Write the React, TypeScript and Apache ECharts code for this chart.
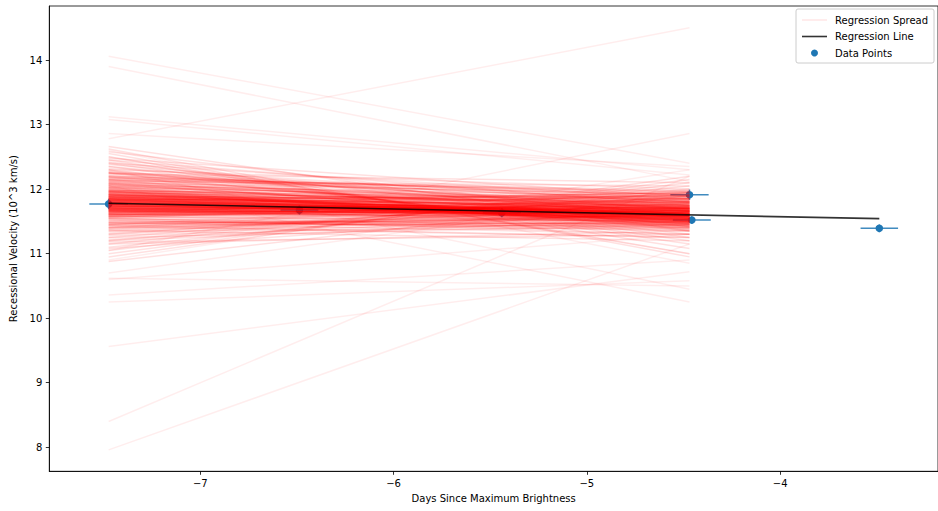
import React, { useEffect, useRef } from "react";
import * as echarts from "echarts";

// Data points (days since max brightness, velocity in 10^3 km/s) with errors
const pointX = [-7.474, -6.487, -5.44, -4.469, -4.457, -3.487];
const pointY = [11.77, 11.676, 11.634, 11.913, 11.521, 11.393];
const xErr = [0.1, 0.098, 0.098, 0.099, 0.098, 0.097];
const yErr = [0.08, 0.07, 0.07, 0.08, 0.06, 0.06];

// Regression line endpoints
const fitX = [-7.474, -3.487];
const fitY = [11.78, 11.542];

// Regression spread: each line runs from spreadX[0] to spreadX[1]
const spreadX = [-7.474, -4.469];

// sparse outlying draws
const outerStart = [
  14.06, 13.9, 12.78, 13.12, 13.08, 12.86, 11.05, 7.96, 8.4, 9.56,
  10.25, 10.36, 12.05, 12.3, 10.62, 10.7, 12.6, 10.6, 12.5, 10.9,
];
const outerEnd = [
  12.4, 12.12, 14.5, 12.3, 12.22, 12.35, 12.86, 11.15, 12.2, 10.72,
  10.58, 10.9, 10.25, 10.45, 10.5, 11.95, 10.85, 11.3, 11.0, 12.3,
];

// intermediate draws
const midStart = [
  12.1, 11.45, 12.15, 11.4, 12.2, 11.35, 12.25, 11.3, 12.08, 11.5,
  12.3, 11.25, 12.12, 11.48, 12.35, 11.2, 12.18, 11.42, 12.4, 11.15,
  12.22, 11.52, 12.45, 11.1, 12.28, 11.38, 12.5, 11.05, 12.05, 11.55,
  12.32, 11.28, 12.55, 11.0, 12.14, 11.44, 12.38, 11.32, 12.62, 10.95,
  12.26, 11.36, 12.42, 11.22, 12.48, 11.18, 12.58, 11.08, 12.66, 10.88,
  12.15, 12.2, 12.25, 12.3, 12.35, 12.4, 12.45, 12.12, 12.18, 12.24,
  11.45, 11.4, 11.35, 11.3, 11.25, 11.2, 11.15, 11.48, 11.42, 11.38,
];
const midEnd = [
  11.45, 11.85, 11.38, 11.88, 11.5, 11.72, 11.35, 11.9, 11.7, 11.4,
  11.3, 11.95, 11.62, 11.52, 11.25, 12.0, 11.55, 11.6, 11.2, 12.05,
  11.75, 11.35, 11.15, 11.98, 11.68, 11.45, 11.08, 12.1, 11.8, 11.3,
  11.8, 11.5, 11.0, 12.15, 11.9, 11.25, 11.6, 11.78, 10.95, 12.2,
  11.85, 11.2, 11.42, 11.65, 11.88, 11.3, 11.52, 11.7, 11.35, 11.9,
  11.7, 11.9, 11.62, 12.0, 11.55, 11.85, 11.75, 12.05, 11.95, 12.1,
  11.6, 11.5, 11.4, 11.65, 11.45, 11.55, 11.35, 11.3, 11.25, 11.7,
];

// dense central draws
const coreStart = [
  11.78, 11.8, 11.75, 11.82, 11.72, 11.85, 11.7, 11.88, 11.68, 11.9,
  11.77, 11.79, 11.74, 11.83, 11.71, 11.86, 11.66, 11.92, 11.64, 11.95,
  11.76, 11.81, 11.73, 11.84, 11.69, 11.87, 11.62, 11.93, 11.6, 11.97,
  11.79, 11.78, 11.74, 11.83, 11.67, 11.89, 11.65, 11.91, 11.58, 12.0,
  11.8, 11.76, 11.71, 11.86, 11.63, 11.94, 11.59, 11.98, 11.56, 12.02,
  11.77, 11.82, 11.7, 11.85, 11.68, 11.88, 11.61, 11.96, 11.57, 12.04,
  11.66, 11.72, 11.6, 11.75, 11.69, 11.63, 12.06, 12.1, 12.02, 12.08,
  11.95, 11.98, 12.02, 11.92, 11.88, 11.86, 11.84, 11.82, 11.8, 11.79,
  11.77, 11.75, 11.73, 11.71, 11.69, 11.67, 11.65, 11.62, 11.6, 11.58,
  12.06, 12.1, 12.14, 11.55, 11.52, 12.0, 11.9, 11.7, 11.84, 11.96,
  11.74, 11.81, 11.87, 11.93, 11.99, 12.04, 11.64, 11.68, 11.72, 11.76,
  11.83, 11.89, 11.91, 11.97, 12.08, 12.12, 11.66, 11.61, 11.57, 11.54,
  12.18, 12.24, 11.5, 11.46, 12.2, 11.48, 12.16, 11.44, 12.26, 11.4,
  11.78, 11.81, 11.74, 11.86, 11.7, 11.9, 11.66, 11.94, 11.62, 11.98,
  11.76, 11.84, 11.72, 11.88, 11.68, 11.92, 11.64, 11.96, 11.8, 11.75,
  11.83, 11.69, 11.87, 11.73, 11.91, 11.67, 11.85, 11.77, 11.79, 11.82,
];
const coreEnd = [
  11.6, 11.58, 11.62, 11.55, 11.64, 11.52, 11.66, 11.5, 11.68, 11.47,
  11.57, 11.63, 11.59, 11.61, 11.56, 11.58, 11.62, 11.54, 11.7, 11.45,
  11.66, 11.53, 11.69, 11.49, 11.72, 11.56, 11.74, 11.51, 11.76, 11.43,
  11.67, 11.52, 11.65, 11.57, 11.6, 11.61, 11.66, 11.59, 11.78, 11.4,
  11.64, 11.54, 11.7, 11.5, 11.67, 11.57, 11.71, 11.48, 11.8, 11.42,
  11.61, 11.63, 11.58, 11.66, 11.55, 11.62, 11.64, 11.53, 11.73, 11.46,
  11.84, 11.9, 11.86, 11.95, 11.8, 11.92, 11.58, 11.66, 11.72, 11.5,
  11.78, 11.82, 11.85, 11.75, 11.72, 11.7, 11.66, 11.68, 11.62, 11.6,
  11.59, 11.57, 11.55, 11.53, 11.5, 11.48, 11.47, 11.45, 11.43, 11.4,
  11.88, 11.92, 11.96, 11.38, 11.36, 11.7, 11.8, 11.65, 11.74, 11.68,
  11.62, 11.64, 11.63, 11.66, 11.73, 11.78, 11.56, 11.61, 11.52, 11.67,
  11.59, 11.69, 11.62, 11.76, 11.82, 11.74, 11.52, 11.58, 11.5, 11.44,
  11.84, 11.8, 11.46, 11.55, 11.92, 11.42, 11.98, 11.48, 11.7, 11.6,
  11.64, 11.7, 11.58, 11.74, 11.55, 11.78, 11.52, 11.8, 11.5, 11.84,
  11.68, 11.6, 11.72, 11.62, 11.76, 11.57, 11.82, 11.66, 11.86, 11.54,
  11.9, 11.48, 11.88, 11.63, 11.69, 11.6, 11.75, 11.56, 11.71, 11.94,
];

// Axis tick values
const xTicks = [-7, -6, -5, -4];
const yTicks = [8, 9, 10, 11, 12, 13, 14];

const FONT = "DejaVu Sans";
const BLUE = "#1f77b4";

const fmt = (v: number) => (v < 0 ? "\u2212" + Math.abs(v) : String(v));

const toLines = (starts: number[], ends: number[]) =>
  starts.map((s, i) => ({
    coords: [
      [spreadX[0], s],
      [spreadX[1], ends[i]],
    ],
  }));

const spreadSeries = (starts: number[], ends: number[], opacity: number) => ({
  name: "Regression Spread",
  type: "lines",
  coordinateSystem: "cartesian2d",
  z: 2,
  silent: true,
  polyline: false,
  large: false,
  data: toLines(starts, ends),
  lineStyle: { color: "#ff0000", opacity, width: 1.5 },
});

export default function App() {
  const ref = useRef<HTMLDivElement>(null);
  useEffect(() => {
    document.body.style.margin = "0";
    const chart = echarts.init(ref.current!, undefined, { renderer: "svg" });
    const option: any = {
      animation: false,
      backgroundColor: "#ffffff",
      grid: {
        left: 49.3,
        top: 6,
        width: 893,
        height: 465.3,
        show: true,
        borderColor: "#000",
        borderWidth: 0.8,
      },
      xAxis: {
        type: "value",
        min: -7.781,
        max: -3.1834,
        splitLine: { show: false },
        axisLine: { show: true, lineStyle: { color: "#000", width: 0.8 } },
        axisTick: {
          show: true,
          customValues: xTicks,
          length: 3.5,
          lineStyle: { color: "#000", width: 0.8 },
        },
        axisLabel: {
          customValues: xTicks,
          formatter: fmt,
          color: "#000",
          fontSize: 10,
          fontFamily: FONT,
          margin: 7,
        },
        name: "Days Since Maximum Brightness",
        nameLocation: "middle",
        nameGap: 21,
        nameTextStyle: { color: "#000", fontSize: 10, fontFamily: FONT },
      },
      yAxis: {
        type: "value",
        min: 7.628,
        max: 14.837,
        splitLine: { show: false },
        axisLine: { show: true, lineStyle: { color: "#000", width: 0.8 } },
        axisTick: {
          show: true,
          customValues: yTicks,
          length: 3.5,
          lineStyle: { color: "#000", width: 0.8 },
        },
        axisLabel: {
          customValues: yTicks,
          formatter: fmt,
          color: "#000",
          fontSize: 10,
          fontFamily: FONT,
          margin: 7,
        },
        name: "Recessional Velocity (10^3 km/s)",
        nameLocation: "middle",
        nameGap: 22,
        nameTextStyle: { color: "#000", fontSize: 10, fontFamily: FONT },
      },
      series: [
        {
          name: "Data Points",
          type: "custom",
          z: 1,
          silent: true,
          data: pointX.map((x, i) => [x, pointY[i], xErr[i], yErr[i]]),
          encode: { x: 0, y: 1 },
          renderItem: (params: any, api: any) => {
            const x = api.value(0);
            const y = api.value(1);
            const ex = api.value(2);
            const ey = api.value(3);
            const c = api.coord([x, y]);
            const l = api.coord([x - ex, y]);
            const r = api.coord([x + ex, y]);
            const t = api.coord([x, y + ey]);
            const b = api.coord([x, y - ey]);
            return {
              type: "group",
              children: [
                {
                  type: "line",
                  shape: { x1: l[0], y1: l[1], x2: r[0], y2: r[1] },
                  style: { stroke: BLUE, lineWidth: 1.5, opacity: 0.85 },
                },
                {
                  type: "line",
                  shape: { x1: t[0], y1: t[1], x2: b[0], y2: b[1] },
                  style: { stroke: BLUE, lineWidth: 1.5, opacity: 0.85 },
                },
                {
                  type: "circle",
                  shape: { cx: c[0], cy: c[1], r: 3.8 },
                  style: { fill: BLUE },
                },
              ],
            };
          },
        },
        spreadSeries(outerStart, outerEnd, 0.07),
        spreadSeries(midStart, midEnd, 0.12),
        spreadSeries(coreStart, coreEnd, 0.17),
        {
          name: "Regression Line",
          type: "line",
          z: 3,
          silent: true,
          showSymbol: false,
          data: [
            [fitX[0], fitY[0]],
            [fitX[1], fitY[1]],
          ],
          lineStyle: { color: "#000", opacity: 0.8, width: 1.6 },
        },
      ],
      graphic: [
        {
          type: "group",
          z: 100,
          children: [
            {
              type: "rect",
              shape: { x: 796, y: 9, width: 138, height: 54, r: 2 },
              style: { fill: "rgba(255,255,255,0.8)", stroke: "#cccccc", lineWidth: 1 },
            },
            {
              type: "line",
              shape: { x1: 802, y1: 20, x2: 827, y2: 20 },
              style: { stroke: "rgba(255,0,0,0.1)", lineWidth: 1.5 },
            },
            {
              type: "text",
              x: 835,
              y: 20,
              style: {
                text: "Regression Spread",
                fill: "#000",
                fontSize: 10,
                fontFamily: FONT,
                verticalAlign: "middle",
              },
            },
            {
              type: "line",
              shape: { x1: 802, y1: 36.5, x2: 827, y2: 36.5 },
              style: { stroke: "rgba(0,0,0,0.8)", lineWidth: 1.6 },
            },
            {
              type: "text",
              x: 835,
              y: 36.5,
              style: {
                text: "Regression Line",
                fill: "#000",
                fontSize: 10,
                fontFamily: FONT,
                verticalAlign: "middle",
              },
            },
            {
              type: "circle",
              shape: { cx: 814.5, cy: 53, r: 3.5 },
              style: { fill: BLUE },
            },
            {
              type: "text",
              x: 835,
              y: 53,
              style: {
                text: "Data Points",
                fill: "#000",
                fontSize: 10,
                fontFamily: FONT,
                verticalAlign: "middle",
              },
            },
          ],
        },
      ],
    };
    chart.setOption(option);
    return () => chart.dispose();
  }, []);
  return <div ref={ref} style={{ width: 938, height: 511 }} />;
}
